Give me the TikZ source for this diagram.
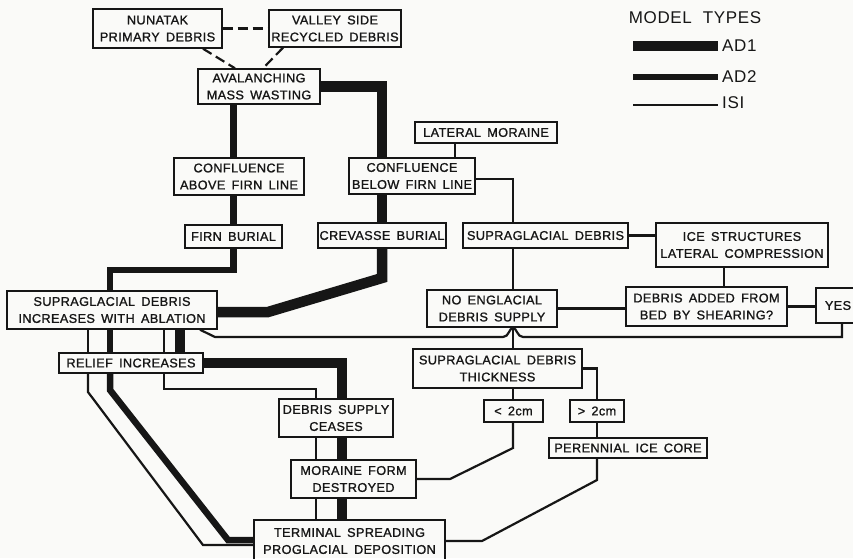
\documentclass[tikz,border=0pt]{standalone}
\usepackage{fontspec}
\usepackage{xcolor}
\newfontfamily\boxfont{Liberation Sans}[LetterSpace=3.0, WordSpace=1.6, FakeBold=1.2]
\newfontfamily\keyfont{Liberation Sans}[LetterSpace=4.0, WordSpace=2.0]
\definecolor{paper}{RGB}{250, 250, 248}
\definecolor{ink}{RGB}{22, 22, 22}
\tikzset{
  box/.style={draw=ink, line width=1.4pt, inner sep=1pt, align=center, text=ink,
    font=\boxfont\fontsize{12.7}{17}\selectfont},
  ad1/.style={draw=ink, line width=10.5pt},
  ad2/.style={draw=ink, line width=6.5pt},
  isi/.style={draw=ink, line width=2.2pt},
  dashlink/.style={draw=ink, line width=2.2pt, dash pattern=on 10pt off 5pt},
  legend/.style={text=ink, inner sep=2pt, font=\keyfont\fontsize{17}{20}\selectfont}
}

\begin{document}
\begin{tikzpicture}[x=1pt, y=-1pt]
      \fill[paper] (0, 0) rectangle (853, 558);
      \useasboundingbox (0, 0) rectangle (853, 558);
      \node[box, minimum width=129, minimum height=39] (nunatak) at (157.5, 28.5) {NUNATAK\\PRIMARY DEBRIS};
      \node[box, minimum width=132, minimum height=37] (valley) at (335, 28.5) {VALLEY SIDE\\RECYCLED DEBRIS};
      \node[box, minimum width=122, minimum height=35] (aval) at (259, 86.5) {AVALANCHING\\MASS WASTING};
      \node[box, minimum width=142, minimum height=21] (latmor) at (486, 132.5) {LATERAL MORAINE};
      \node[box, minimum width=130, minimum height=37] (confa) at (239, 176.5) {CONFLUENCE\\ABOVE FIRN LINE};
      \node[box, minimum width=126, minimum height=36] (confb) at (412, 176) {CONFLUENCE\\BELOW FIRN LINE};
      \node[box, minimum width=97, minimum height=23] (firn) at (233.5, 236.5) {FIRN BURIAL};
      \node[box, minimum width=128, minimum height=25] (crev) at (382, 235.5) {CREVASSE BURIAL};
      \node[box, minimum width=165, minimum height=25] (supra) at (545.5, 235.5) {SUPRAGLACIAL DEBRIS};
      \node[box, minimum width=172, minimum height=44] (icestr) at (742, 245) {ICE STRUCTURES\\LATERAL COMPRESSION};
      \node[box, minimum width=210, minimum height=38] (sdiwa) at (112, 310) {SUPRAGLACIAL DEBRIS\\INCREASES WITH ABLATION};
      \node[box, minimum width=130, minimum height=37] (noengl) at (492, 308.5) {NO ENGLACIAL\\DEBRIS SUPPLY};
      \node[box, minimum width=161, minimum height=39] (added) at (706.5, 306.5) {DEBRIS ADDED FROM\\BED BY SHEARING?};
      \node[box, minimum width=44, minimum height=35] (yes) at (838, 305.5) {YES};
      \node[box, minimum width=144, minimum height=20] (relief) at (131, 363) {RELIEF INCREASES};
      \node[box, minimum width=169, minimum height=39] (dthick) at (497.5, 368.5) {SUPRAGLACIAL DEBRIS\\THICKNESS};
      \node[box, minimum width=59, minimum height=22] (lt2) at (513.5, 411) {< 2cm};
      \node[box, minimum width=54, minimum height=22] (gt2) at (597, 411) {> 2cm};
      \node[box, minimum width=114, minimum height=38] (dsc) at (336, 418) {DEBRIS SUPPLY\\CEASES};
      \node[box, minimum width=158, minimum height=20] (peren) at (628, 448) {PERENNIAL ICE CORE};
      \node[box, minimum width=125, minimum height=38] (mfd) at (353.5, 479) {MORAINE FORM\\DESTROYED};
      \node[box, minimum width=191, minimum height=42] (term) at (349.5, 541) {TERMINAL SPREADING\\PROGLACIAL DEPOSITION};

      \node[legend] (mtypes) at (695, 18) {MODEL TYPES};
      \node[legend, anchor=west] (lad1) at (720, 46) {AD1};
      \node[legend, anchor=west] (lad2) at (720, 77) {AD2};
      \node[legend, anchor=west] (lisi) at (720, 103) {ISI};
      \coordinate (k1) at (633, 46);
      \coordinate (k2) at (633, 77);
      \coordinate (k3) at (633, 105);
      \draw[ad1] (k1) -- ([xshift=-2]k1 -| lad1.west);
      \draw[ad2] (k2) -- ([xshift=-2]k2 -| lad2.west);
      \draw[isi] (k3) -- ([xshift=-2]k3 -| lisi.west);

      \draw[dashlink] (nunatak) -- (valley);
      \draw[dashlink] ([xshift=45.5]nunatak.south) -- ([xshift=-24]aval.north);
      \draw[dashlink] ([xshift=-52]valley.south) -- ([xshift=4]aval.north);

      \coordinate (b1) at (382, 278);
      \coordinate (b2) at (268, 312);
      \coordinate (a1) at (180, 0);
      \coordinate (d1) at (342, 0);
      \draw[ad1] (aval.east) -| (crev.north |- confb.north);
      \draw[ad1] (crev.north |- confb.south) -- (crev.north);
      \draw[ad1] (crev.south) -- (b1) -- (b2) -- (b2 -| sdiwa.east);
      \draw[ad1] (sdiwa.south -| a1) -- (relief.north -| a1);
      \draw[ad1] (relief.east) -| (dsc.north -| d1);
      \draw[ad1] (dsc.south -| d1) -- (mfd.north -| d1);
      \draw[ad1] (mfd.south -| d1) -- (term.north -| d1);

      \coordinate (a2) at (110, 270);
      \coordinate (a3) at (110, 390);
      \coordinate (a4) at (228, 540);
      \draw[ad2] (aval.south -| firn.north) -- (confa.north -| firn.north);
      \draw[ad2] (confa.south -| firn.north) -- (firn.north);
      \draw[ad2] (firn.south) |- (a2) -- (sdiwa.north -| a2);
      \draw[ad2] (sdiwa.south -| a2) -- (relief.north -| a2);
      \draw[ad2] (relief.south -| a3) -- (a3) -- (a4) -- (a4 -| term.west);

      \coordinate (t1) at (88, 392);
      \coordinate (t2) at (203, 545);
      \coordinate (t3) at (164, 389);
      \coordinate (t4) at (316, 389);
      \draw[isi] (sdiwa.south -| t1) -- (relief.north -| t1);
      \draw[isi] (relief.south -| t1) -- (t1) -- (t2) -- (t2 -| term.west);
      \draw[isi] (sdiwa.south -| t3) -- (relief.north -| t3);
      \draw[isi] (relief.south -| t3) -- (t3) -- (t4) -- (dsc.north -| t4);
      \draw[isi] (dsc.south -| t4) -- (mfd.north -| t4);
      \draw[isi] (mfd.south -| t4) -- (term.north -| t4);

      \coordinate (sp) at (513, 179);
      \coordinate (lm) at (455, 0);
      \coordinate (ix) at (724, 0);
      \draw[isi] (latmor.south -| lm) -- (confb.north -| lm);
      \draw[isi] (confb.east |- sp) -- (sp) -- (supra.north -| sp);
      \draw[isi] (supra.east) -- (supra.east -| icestr.west);
      \draw[isi] (supra.south -| sp) -- (noengl.north -| sp);
      \draw[isi] (icestr.south -| ix) -- (added.north -| ix);
      \draw[isi] (noengl.east) -- (noengl.east -| added.west);
      \draw[isi] (added.east) -- (added.east -| yes.west);
      \draw[isi] (noengl.south -| sp) -- (dthick.north -| sp);
      \draw[isi] (dthick.south -| sp) -- (lt2.north -| sp);

      \coordinate (l1) at (513, 448);
      \coordinate (l2) at (450, 479);
      \coordinate (g1) at (597, 480);
      \coordinate (g2) at (482, 541);
      \draw[isi] (lt2.south -| sp) -- (l1) -- (l2) -- (mfd.east);
      \draw[isi] (dthick.east) -| (gt2.north);
      \draw[isi] (gt2.south) -- (peren.north -| gt2.south);
      \draw[isi] (peren.south -| g1) -- (g1) -- (g2) -- (term.east);

      \coordinate (y1) at (842, 337);
      \coordinate (h1) at (523, 337);
      \coordinate (h2) at (503, 337);
      \coordinate (y2) at (215, 337);
      \coordinate (y3) at (200, 0);
      \draw[isi] (yes.south -| y1) -- (y1) -- (h1) .. controls (517, 337) and (517, 328) .. (513, 328)
        .. controls (509, 328) and (509, 337) .. (h2) -- (y2) -- (sdiwa.south -| y3);
    \end{tikzpicture}
\end{document}
